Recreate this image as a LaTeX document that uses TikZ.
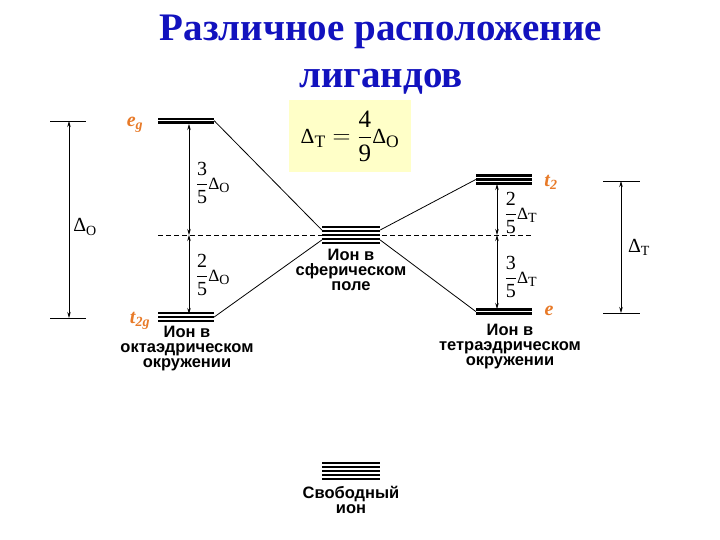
\documentclass[tikz,border=0pt]{standalone}
\usepackage{fontspec}
\usepackage{amsmath}
\setmainfont{Liberation Serif}
\setsansfont{Liberation Sans}
\usetikzlibrary{arrows.meta}
\definecolor{titleblue}{RGB}{18,18,190}
\definecolor{lblorange}{RGB}{232,122,40}
\definecolor{boxyellow}{RGB}{255,255,200}
\newcommand{\myfrac}[2]{\dfrac{\textrm{#1}}{\textrm{#2}}}
\newcommand{\myDelta}[1]{\mbox{\scalebox{0.86}{Δ}}_{\textrm{#1}}}
\newcommand{\bigDelta}[1]{\textrm{Δ}_{\textrm{#1}}}
\begin{document}
\begin{tikzpicture}[x=1pt,y=-1pt,
  lev/.style={line width=2.3pt},
  conn/.style={line width=0.8pt},
  dimarrow/.style={line width=0.7pt,{Stealth[length=6pt,width=3.5pt]}-{Stealth[length=6pt,width=3.5pt]}},
  tickline/.style={line width=0.8pt},
  caption/.style={font=\sffamily\bfseries\fontsize{16.5}{15}\selectfont, align=center, inner sep=0pt},
  orb/.style={font=\rmfamily\bfseries\itshape\fontsize{20}{20}\selectfont, text=lblorange, inner sep=0pt},
  fraclbl/.style={font=\fontsize{20}{22}\selectfont, inner sep=1pt},
  levelnode/.style={inner sep=0pt, minimum width=56pt, minimum height=#1}
]
\useasboundingbox (0,0) rectangle (720,540);
\fill[white] (0,0) rectangle (720,540);

% title
\node[font=\bfseries\fontsize{39}{47}\selectfont, text=titleblue, align=center] (title) at (381,55) {Различное расположение\\лигандов};

% formula box
\node[fill=boxyellow, minimum width=122pt, minimum height=72pt, font=\fontsize{25}{28}\selectfont] (formula) at (350,136) {$\myDelta{T}=\myfrac{4}{9}\myDelta{O}$};

% levels
\node[levelnode=6pt] (eg) at (186,120.75) {};
\node[levelnode=12pt] (t2g) at (186,317) {};
\node[levelnode=20pt, minimum width=58pt] (sph) at (351,235) {};
\node[levelnode=12pt] (t2) at (504,179.5) {};
\node[levelnode=6pt] (e) at (504,311.5) {};
\node[levelnode=20pt, minimum width=58pt] (free) at (351,471) {};

\foreach \yy in {119,122.5} \draw[lev] (158,\yy) -- (214,\yy);
\foreach \yy in {313,317,321} \draw[lev] (158,\yy) -- (214,\yy);
\foreach \yy in {227,231,235,239,243} \draw[lev] (322,\yy) -- (380,\yy);
\foreach \yy in {175.5,179.5,183.5} \draw[lev] (476,\yy) -- (532,\yy);
\foreach \yy in {309.5,313.5} \draw[lev] (476,\yy) -- (532,\yy);
\foreach \yy in {463,467,471,475,479} \draw[lev] (322,\yy) -- (380,\yy);

% barycentre dashed line
\coordinate (dl) at (158,235);
\coordinate (dr) at (532,235);
\draw[line width=0.7pt, dash pattern=on 5pt off 3pt] (dl) -- (dr);

% connectors
\draw[conn] (eg.east) -- ([yshift=5pt]sph.west);
\draw[conn] (t2g.east) -- ([yshift=-5pt]sph.west);
\draw[conn] ([yshift=5pt]sph.east) -- (t2.west);
\draw[conn] ([yshift=-5pt]sph.east) -- (e.west);

% inner arrows
\coordinate (aLt) at (189,124);
\coordinate (aLm) at (189,235);
\coordinate (aLb) at (189,314);
\draw[dimarrow] (aLt) -- (aLm);
\draw[dimarrow] (aLm) -- (aLb);
\coordinate (aRt) at (497,184);
\coordinate (aRm) at (497,235);
\coordinate (aRb) at (497,309);
\draw[dimarrow] (aRt) -- (aRm);
\draw[dimarrow] (aRm) -- (aRb);

% outer dimension bars
\coordinate (oLt1) at (50,121); \coordinate (oLt2) at (86,121);
\coordinate (oLb1) at (50,318); \coordinate (oLb2) at (86,318);
\draw[tickline] (oLt1) -- (oLt2);
\draw[tickline] (oLb1) -- (oLb2);
\coordinate (oLa) at (69,121); \coordinate (oLz) at (69,318);
\draw[dimarrow] (oLa) -- (oLz);
\coordinate (oRt1) at (603,181); \coordinate (oRt2) at (640,181);
\coordinate (oRb1) at (603,313); \coordinate (oRb2) at (640,313);
\draw[tickline] (oRt1) -- (oRt2);
\draw[tickline] (oRb1) -- (oRb2);
\coordinate (oRa) at (621,181); \coordinate (oRz) at (621,313);
\draw[dimarrow] (oRa) -- (oRz);

% dimension labels
\node[fraclbl] (lDO) at (85,227) {$\bigDelta{O}$};
\node[fraclbl] (lDT) at (639,247) {$\bigDelta{T}$};
\node[fraclbl] (l35O) at (213,183) {$\myfrac{3}{5}\myDelta{O}$};
\node[fraclbl] (l25O) at (213,275) {$\myfrac{2}{5}\myDelta{O}$};
\node[fraclbl] (l25T) at (521,213) {$\myfrac{2}{5}\myDelta{T}$};
\node[fraclbl] (l35T) at (521,277) {$\myfrac{3}{5}\myDelta{T}$};

% orbital labels
\node[orb] (leg) at (135,125) {e\textsubscript{g}};
\node[orb] (lt2g) at (140,321) {t\textsubscript{2g}};
\node[orb] (lt2) at (551,182) {t\textsubscript{2}};
\node[orb] (le) at (549,311) {e};

% captions
\node[caption] (cO) at (187,349) {Ион в\\октаэдрическом\\окружении};
\node[caption] (cS) at (351,270) {Ион в\\сферическом\\поле};
\node[caption] (cT) at (510,347) {Ион в\\тетраэдрическом\\окружении};
\node[caption] (cF) at (351,500) {Свободный\\ион};
\end{tikzpicture}
\end{document}
